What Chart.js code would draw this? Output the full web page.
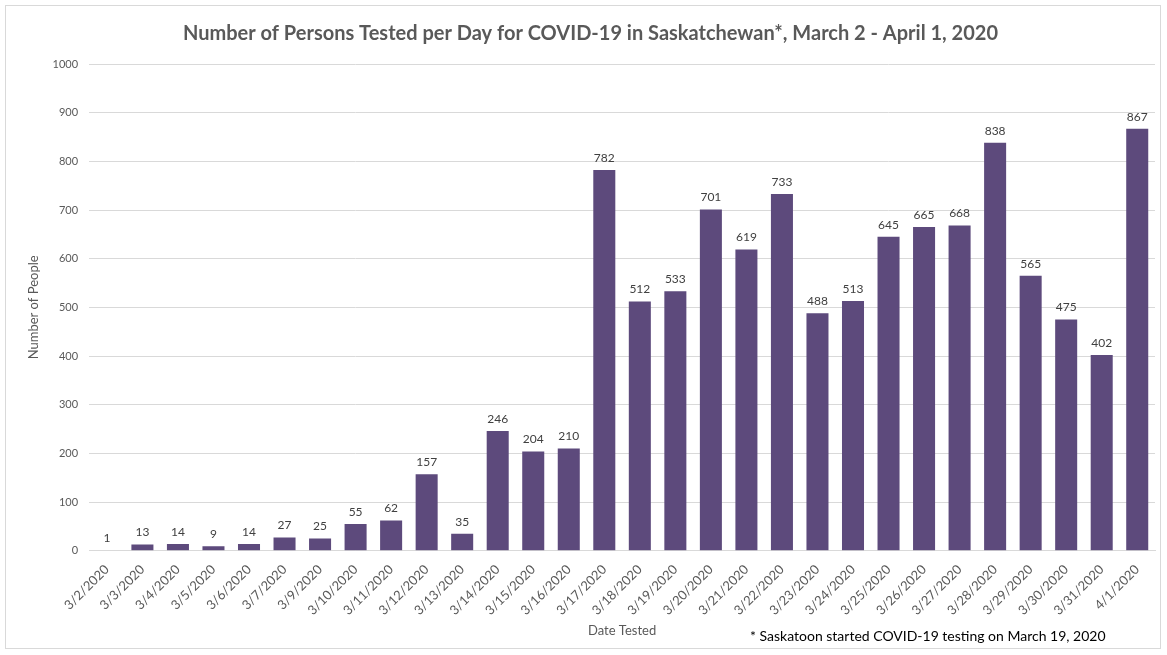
<!DOCTYPE html>
<html>
<head>
<meta charset="utf-8">
<script src="https://cdn.jsdelivr.net/npm/chart.js@4"></script>
<style>
  html, body { margin: 0; padding: 0; background: #fff; }
  #wrap { position: relative; width: 1167px; height: 655px; }
  #frame { position: absolute; left: 5px; top: 5px; width: 1156px; height: 644px; border: 1px solid #d9d9d9; box-sizing: border-box; pointer-events: none; }
  #note { position: absolute; left: 750px; top: 627px; font: 14px Lato, "Open Sans", sans-serif; color: #000; }
</style>
</head>
<body>
<div id="wrap">
  <canvas id="chart" width="1167" height="655"></canvas>
  <div id="frame"></div>
  <div id="note">* Saskatoon started COVID-19 testing on March 19, 2020</div>
</div>
<script>
// Dữ liệu
const dates = ['3/2/2020', '3/3/2020', '3/4/2020', '3/5/2020', '3/6/2020', '3/7/2020', '3/9/2020',
  '3/10/2020', '3/11/2020', '3/12/2020', '3/13/2020', '3/14/2020', '3/15/2020', '3/16/2020',
  '3/17/2020', '3/18/2020', '3/19/2020', '3/20/2020', '3/21/2020', '3/22/2020', '3/23/2020',
  '3/24/2020', '3/25/2020', '3/26/2020', '3/27/2020', '3/28/2020', '3/29/2020', '3/30/2020',
  '3/31/2020', '4/1/2020'];
const tested = [1, 13, 14, 9, 14, 27, 25, 55, 62, 157, 35, 246, 204, 210, 782, 512, 533, 701,
  619, 733, 488, 513, 645, 665, 668, 838, 565, 475, 402, 867];
const yMax = 1000;
const yStep = 100;

const FONT = 'Lato, "Open Sans", sans-serif';
const GREY = '#595959';

// Nhãn giá trị trên cột
const valueLabels = {
  id: 'valueLabels',
  afterDatasetsDraw(chart) {
    const ctx = chart.ctx;
    const meta = chart.getDatasetMeta(0);
    ctx.save();
    ctx.font = '12px ' + FONT;
    ctx.fillStyle = '#404040';
    ctx.textAlign = 'center';
    ctx.textBaseline = 'bottom';
    meta.data.forEach((bar, i) => {
      ctx.fillText(String(tested[i]), bar.x, bar.y - 6);
    });
    ctx.restore();
  }
};

const ctx = document.getElementById('chart').getContext('2d');
new Chart(ctx, {
  type: 'bar',
  data: {
    labels: dates,
    datasets: [{
      label: 'Number of People',
      data: tested,
      backgroundColor: '#5d4a7c',
      categoryPercentage: 1,
      barPercentage: 0.62
    }]
  },
  options: {
    responsive: false,
    animation: false,
    layout: { padding: { left: 26, right: 12, top: 6, bottom: 12 } },
    plugins: {
      legend: { display: false },
      tooltip: { enabled: false },
      title: {
        display: true,
        text: 'Number of Persons Tested per Day for COVID-19 in Saskatchewan*, March 2 - April 1, 2020',
        color: GREY,
        font: { family: FONT, size: 20, weight: 'bold' },
        padding: { top: 16, bottom: 18 }
      }
    },
    scales: {
      y: {
        min: 0,
        max: yMax,
        ticks: { stepSize: yStep, color: GREY, font: { family: FONT, size: 11 }, padding: 11,
          callback: v => String(v) },
        grid: { color: '#d9d9d9', drawTicks: false },
        border: { display: false },
        title: { display: true, text: 'Number of People', color: GREY, font: { family: FONT, size: 13 },
          padding: { top: 0, bottom: 0 } }
      },
      x: {
        ticks: { color: GREY, font: { family: FONT, size: 13 }, minRotation: 45, maxRotation: 45, autoSkip: false },
        grid: { display: false },
        border: { color: '#d9d9d9' },
        title: { display: true, text: 'Date Tested', color: GREY, font: { family: FONT, size: 13 }, padding: { top: 2 } }
      }
    }
  },
  plugins: [valueLabels]
});
</script>
</body>
</html>
